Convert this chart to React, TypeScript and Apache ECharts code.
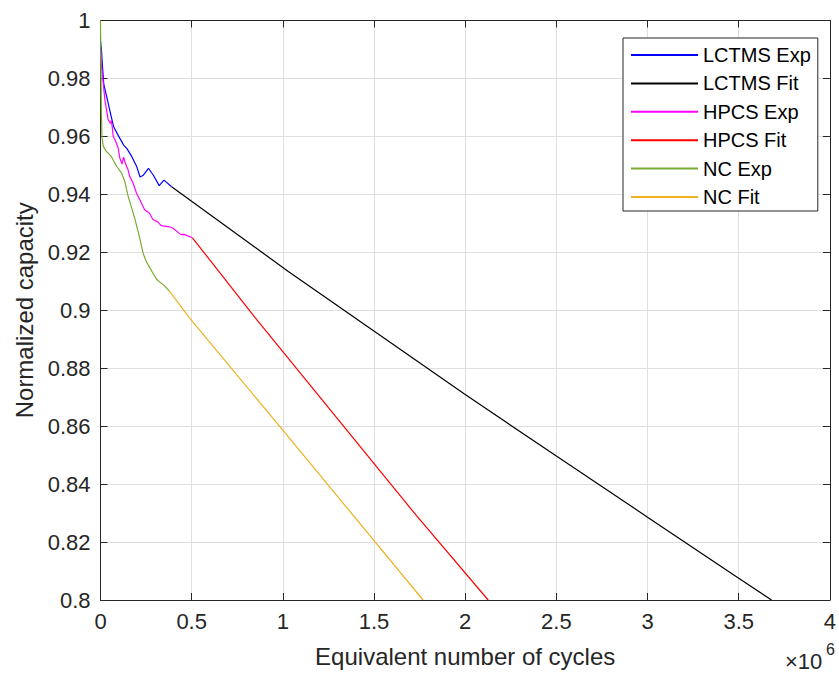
import React, { useEffect, useRef } from 'react';
import * as echarts from 'echarts';

// x values are in units of 10^6 equivalent cycles
const xTickInterval = 0.5;
const yTickInterval = 0.02;

const lctmsExpX = [0, 0.005, 0.011, 0.018, 0.033, 0.051, 0.072, 0.1, 0.127, 0.145, 0.172, 0.199, 0.217, 0.235, 0.263, 0.29, 0.322, 0.348, 0.39];
const lctmsExpY = [0.993, 0.99, 0.984, 0.978, 0.974, 0.969, 0.9633, 0.96, 0.957, 0.9558, 0.953, 0.9495, 0.946, 0.9466, 0.949, 0.9466, 0.943, 0.9449, 0.9426];

const lctmsFitX = [0.39, 1.03, 2.0, 2.5, 3.0, 3.5, 3.68];
const lctmsFitY = [0.9426, 0.9134, 0.8709, 0.8497, 0.8286, 0.8075, 0.8];

const hpcsExpX = [0, 0.006, 0.024, 0.042, 0.055, 0.06, 0.07, 0.079, 0.097, 0.106, 0.118, 0.127, 0.135, 0.151, 0.16, 0.178, 0.197, 0.215, 0.242, 0.269, 0.287, 0.314, 0.333, 0.378, 0.396, 0.441, 0.459, 0.504];
const hpcsExpY = [0.99, 0.984, 0.9727, 0.9658, 0.9645, 0.9655, 0.96, 0.9589, 0.956, 0.9525, 0.9505, 0.9528, 0.951, 0.9485, 0.9462, 0.944, 0.9405, 0.9382, 0.9347, 0.9335, 0.9313, 0.9305, 0.9292, 0.9288, 0.9284, 0.9261, 0.9262, 0.925];

const hpcsFitX = [0.504, 0.849, 1.733, 2.126];
const hpcsFitY = [0.925, 0.8974, 0.8291, 0.8];

const ncExpX = [0, 0.002, 0.005, 0.008, 0.015, 0.03, 0.06, 0.088, 0.115, 0.133, 0.151, 0.17, 0.1875, 0.215, 0.233, 0.25, 0.269, 0.29, 0.31, 0.35, 0.378];
const ncExpY = [1.0, 0.985, 0.968, 0.96, 0.9566, 0.955, 0.953, 0.9497, 0.9474, 0.9445, 0.9395, 0.9355, 0.9318, 0.925, 0.9198, 0.917, 0.9148, 0.9125, 0.9105, 0.9085, 0.9066];

const ncFitX = [0.378, 0.49, 1.0, 1.769];
const ncFitY = [0.9066, 0.8972, 0.8586, 0.8];

const seriesNames = ['LCTMS Exp', 'LCTMS Fit', 'HPCS Exp', 'HPCS Fit', 'NC Exp', 'NC Fit'];
const seriesColors = ['#0000ff', '#000000', '#ff00ff', '#ff0000', '#77ac30', '#edb120'];

function pairs(xs: number[], ys: number[]) {
  return xs.map((x, i) => [x, ys[i]]);
}

export default function App() {
  const ref = useRef<HTMLDivElement>(null);
  useEffect(() => {
    const chart = echarts.init(ref.current!, null, { renderer: 'svg' });
    const font = "'Liberation Sans', Arial, Helvetica, sans-serif";
    const axisColor = '#262626';
    const datasets = [
      pairs(lctmsExpX, lctmsExpY),
      pairs(lctmsFitX, lctmsFitY),
      pairs(hpcsExpX, hpcsExpY),
      pairs(hpcsFitX, hpcsFitY),
      pairs(ncExpX, ncExpY),
      pairs(ncFitX, ncFitY),
    ];
    const boxAxis = {
      axisLine: { show: true, onZero: false, lineStyle: { color: axisColor, width: 1 } },
      axisTick: { show: true, inside: true, length: 7, lineStyle: { color: axisColor, width: 1 } },
    };
    chart.setOption({
      animation: false,
      backgroundColor: '#ffffff',
      textStyle: { fontFamily: font },
      grid: { left: 100.5, right: 2.5, top: 20.5, bottom: 72.5, containLabel: false },
      legend: {
        left: 623,
        top: 38,
        orient: 'vertical',
        itemWidth: 67,
        itemHeight: 20,
        itemGap: 8.4,
        padding: [7, 7, 4, 7],
        backgroundColor: '#ffffff',
        borderColor: axisColor,
        borderWidth: 1,
        borderRadius: 0,
        itemStyle: { opacity: 0, borderWidth: 0 },
        textStyle: { fontSize: 20, color: '#000000', fontFamily: font },
        data: seriesNames,
      },
      xAxis: [
        {
          type: 'value',
          min: 0,
          max: 4,
          interval: xTickInterval,
          position: 'bottom',
          name: 'Equivalent number of cycles',
          nameLocation: 'middle',
          nameGap: 44,
          nameTextStyle: { fontSize: 24, color: axisColor, fontFamily: font },
          ...boxAxis,
          axisLabel: { fontSize: 22, color: axisColor, margin: 10, fontFamily: font },
          splitLine: { show: true, lineStyle: { color: '#dfdfdf', width: 1 } },
        },
        {
          type: 'value',
          min: 0,
          max: 4,
          interval: xTickInterval,
          position: 'top',
          ...boxAxis,
          axisLabel: { show: false },
          splitLine: { show: false },
        },
      ],
      yAxis: [
        {
          type: 'value',
          min: 0.8,
          max: 1,
          interval: yTickInterval,
          position: 'left',
          name: 'Normalized capacity',
          nameLocation: 'middle',
          nameGap: 56,
          nameTextStyle: { fontSize: 24, color: axisColor, fontFamily: font },
          ...boxAxis,
          axisLabel: { fontSize: 22, color: axisColor, margin: 10, fontFamily: font },
          splitLine: { show: true, lineStyle: { color: '#dfdfdf', width: 1 } },
        },
        {
          type: 'value',
          min: 0.8,
          max: 1,
          interval: yTickInterval,
          position: 'right',
          ...boxAxis,
          axisLabel: { show: false },
          splitLine: { show: false },
        },
      ],
      graphic: [
        {
          type: 'text',
          left: 785,
          top: 650,
          style: { text: '×10', font: `22px ${font}`, fill: axisColor },
        },
        {
          type: 'text',
          left: 826,
          top: 641,
          style: { text: '6', font: `16px ${font}`, fill: axisColor },
        },
      ],
      series: seriesNames.map((name, i) => ({
        name,
        type: 'line',
        data: datasets[i],
        symbol: 'none',
        showSymbol: false,
        color: seriesColors[i],
        lineStyle: { color: seriesColors[i], width: 1.2 },
        xAxisIndex: 0,
        yAxisIndex: 0,
        z: 2 + i,
      })),
    });
    return () => chart.dispose();
  }, []);
  return <div ref={ref} style={{ position: 'absolute', left: 0, top: 0, width: 839, height: 673 }} />;
}
